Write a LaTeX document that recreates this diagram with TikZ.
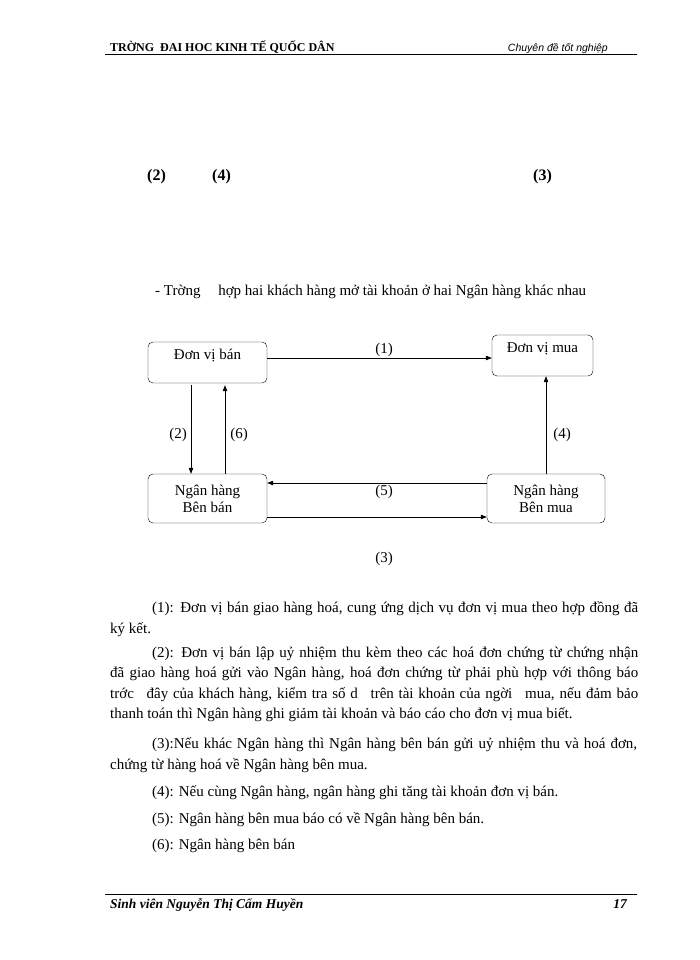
\documentclass[tikz,border=0pt]{standalone}
\usepackage{fontspec}
\setmainfont{Liberation Serif}
\newfontfamily\headsans{Liberation Sans}
\usetikzlibrary{arrows.meta}
\newcommand{\txtsize}{\fontsize{15}{17}\selectfont}

\begin{document}
\begin{tikzpicture}[x=1pt, y=-1pt,
  box/.style={draw, rounded corners=5pt, inner sep=0pt, align=center, font=\txtsize},
  arrow/.style={-{Triangle[length=6pt,width=4.5pt]}, line width=0.6pt},
  num/.style={anchor=base, inner sep=0pt, font=\txtsize},
  para/.style={anchor=base west, inner sep=0pt, font=\txtsize},
  rule/.style={line width=0.6pt}
]
\useasboundingbox (0,0) rectangle (700,960);
\fill[white] (0,0) rectangle (700,960);

\node[anchor=base west, inner sep=0pt, font=\fontsize{12}{14}\selectfont\bfseries] (school) at (110,52) {TRỜNG\hspace{6pt}ĐAI HOC KINH TẾ QUỐC DÂN};
\node[anchor=base east, inner sep=0pt, font=\fontsize{10.5}{12}\selectfont\headsans\itshape] (topic) at (608,52) {Chuyên đề tốt nghiệp};
\draw[rule] (school.base west) ++(-5,2) coordinate (hl) -- (hl -| 637,0);

\node[num, anchor=base west, font=\fontsize{16}{18}\selectfont\bfseries] (t2) at (147,181) {(2)};
\node[num, anchor=base west, font=\fontsize{16}{18}\selectfont\bfseries] (t4) at (212,181) {(4)};
\node[num, anchor=base west, font=\fontsize{16}{18}\selectfont\bfseries] (t3) at (533,181) {(3)};

\node[para] (title) at (155,295) {- Trờng\hspace{14pt} hợp hai khách hàng mở tài khoản ở hai Ngân hàng khác nhau};

\node[box, minimum width=119pt, text height=17pt, text depth=24pt] (seller) at (207.5,362.5) {Đơn vị bán};
\node[box, minimum width=101pt, text height=17pt, text depth=24pt] (buyer) at (542.5,355.5) {Đơn vị mua};
\node[box, minimum width=119pt, minimum height=49pt] (bankS) at (207.5,498.5) {Ngân hàng\\Bên bán};
\node[box, minimum width=118pt, minimum height=49pt] (bankB) at (546,498.5) {Ngân hàng\\Bên mua};

\draw[arrow] ([yshift=4.5pt]seller.east) -- ([yshift=-2.5pt]buyer.west);
\draw[arrow, shorten <=2pt] ([xshift=-16.5pt]seller.south) -- ([xshift=-16.5pt]bankS.north);
\draw[arrow, shorten >=2pt] ([xshift=17.5pt]bankS.north) -- ([xshift=17.5pt]seller.south);
\draw[arrow] (bankB.north) -- (bankB.north |- buyer.south);
\draw[arrow] ([yshift=15.5pt]bankB.west) -- ([yshift=15.5pt]bankS.east);
\draw[arrow] ([yshift=-18.5pt]bankS.east) -- ([yshift=-18.5pt]bankB.west);

\node[num] (l1) at (384,353) {(1)};
\node[num] (l2) at (178,438) {(2)};
\node[num] (l6) at (239,438) {(6)};
\node[num] (l4) at (562,438) {(4)};
\node[num] (l5) at (384,495) {(5)};
\node[num] (l3) at (384,562) {(3)};

\node[para] (p1a) at (152,612) {\makebox[486pt][s]{(1): Đơn vị bán giao hàng hoá, cung ứng dịch vụ đơn vị mua theo hợp đồng đã}};
\node[para] (p1b) at (110,633) {ký kết.};
\node[para] (p2a) at (152,657) {\makebox[486pt][s]{(2): Đơn vị bán lập uỷ nhiệm thu kèm theo các hoá đơn chứng từ chứng nhận}};
\node[para] (p2b) at (110,677) {\makebox[528pt][s]{đã giao hàng hoá gửi vào Ngân hàng, hoá đơn chứng từ phải phù hợp với thông báo}};
\node[para] (p2c) at (110,698) {\makebox[528pt][s]{trớc\hspace{8pt} đây của khách hàng, kiểm tra số d\hspace{8pt} trên tài khoản của ngời\hspace{8pt} mua, nếu đảm bảo}};
\node[para] (p2d) at (110,718) {thanh toán thì Ngân hàng ghi giảm tài khoản và báo cáo cho đơn vị mua biết.};
\node[para] (p3a) at (152,748) {\makebox[485pt][s]{(3):Nếu khác Ngân hàng thì Ngân hàng bên bán gửi uỷ nhiệm thu và hoá đơn,}};
\node[para] (p3b) at (110,769) {chứng từ hàng hoá\ về Ngân hàng bên mua.};
\node[para] (p4) at (152,796) {(4): Nếu cùng Ngân hàng, ngân hàng ghi tăng tài khoản đơn vị bán.};
\node[para] (p5) at (152,823) {(5): Ngân hàng bên mua báo có về Ngân hàng bên bán.};
\node[para] (p6) at (152,849) {(6): Ngân hàng bên bán};

\node[anchor=base west, inner sep=0pt, font=\fontsize{13.5}{15}\selectfont\bfseries\itshape] (student) at (110,908) {Sinh viên Nguyễn Thị Cẩm Huyền};
\node[anchor=base east, inner sep=0pt, font=\fontsize{13.5}{15}\selectfont\bfseries\itshape] (page) at (627,908) {17};
\draw[rule] (105,894) coordinate (fl) -- (fl -| 637,0);
\end{tikzpicture}
\end{document}
